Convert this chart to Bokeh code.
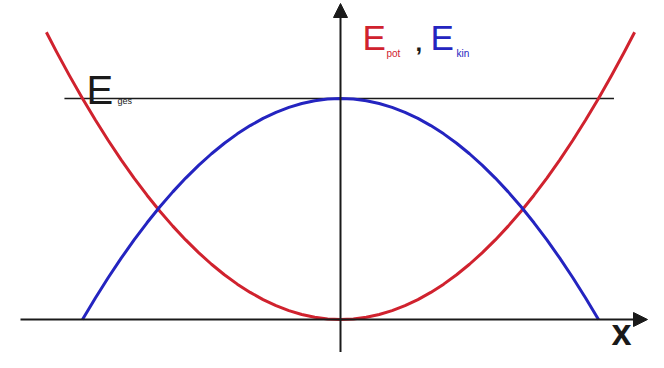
from bokeh.plotting import figure
from bokeh.models import Arrow, NormalHead, Label, Range1d
from bokeh.embed import file_html
from bokeh.resources import INLINE

# ---- data (x in units of amplitude, energy in units of E_ges)
x_pot = [-1.14, -1.10, -1.05, -1.00, -0.95, -0.90, -0.85, -0.80, -0.75, -0.70, -0.65,
         -0.60, -0.55, -0.50, -0.45, -0.40, -0.35, -0.30, -0.25, -0.20, -0.15, -0.10,
         -0.05, 0.00, 0.05, 0.10, 0.15, 0.20, 0.25, 0.30, 0.35, 0.40, 0.45, 0.50, 0.55,
         0.60, 0.65, 0.70, 0.75, 0.80, 0.85, 0.90, 0.95, 1.00, 1.05, 1.10, 1.14]
e_pot = [1.30, 1.21, 1.1025, 1.00, 0.9025, 0.81, 0.7225, 0.64, 0.5625, 0.49, 0.4225,
         0.36, 0.3025, 0.25, 0.2025, 0.16, 0.1225, 0.09, 0.0625, 0.04, 0.0225, 0.01,
         0.0025, 0.0, 0.0025, 0.01, 0.0225, 0.04, 0.0625, 0.09, 0.1225, 0.16, 0.2025, 0.25, 0.3025,
         0.36, 0.4225, 0.49, 0.5625, 0.64, 0.7225, 0.81, 0.9025, 1.00, 1.1025, 1.21, 1.30]
x_kin = [-1.00, -0.95, -0.90, -0.85, -0.80, -0.75, -0.70, -0.65, -0.60, -0.55, -0.50,
         -0.45, -0.40, -0.35, -0.30, -0.25, -0.20, -0.15, -0.10, -0.05, 0.00,
         0.05, 0.10, 0.15, 0.20, 0.25, 0.30, 0.35, 0.40, 0.45, 0.50,
         0.55, 0.60, 0.65, 0.70, 0.75, 0.80, 0.85, 0.90, 0.95, 1.00]
e_kin = [0.0, 0.0975, 0.19, 0.2775, 0.36, 0.4375, 0.51, 0.5775, 0.64, 0.6975, 0.75,
         0.7975, 0.84, 0.8775, 0.91, 0.9375, 0.96, 0.9775, 0.99, 0.9975, 1.0,
         0.9975, 0.99, 0.9775, 0.96, 0.9375, 0.91, 0.8775, 0.84, 0.7975, 0.75,
         0.6975, 0.64, 0.5775, 0.51, 0.4375, 0.36, 0.2775, 0.19, 0.0975, 0.0]
e_ges = 1.0
e_ges_span = [-1.07, 1.06]

# layout: screen x = 340 + 258*x, screen y = 319 - 221*E
def sx(px):
    return (px - 340) / 258.0

def sy(py):
    return (319 - py) / 221.0

x_lo, x_hi = sx(0), sx(648)
y_lo, y_hi = sy(352), sy(0)

RED = "#d0222e"
BLUE = "#2424c0"
INK = "#1a1a1a"
FONT = "Liberation Sans"

p = figure(width=648, height=352, output_backend="svg", toolbar_location=None,
           x_range=Range1d(x_lo, x_hi), y_range=Range1d(y_lo, y_hi),
           min_border=0, outline_line_color=None)
p.axis.visible = False
p.grid.visible = False
p.background_fill_color = "white"
p.border_fill_color = "white"

# axes (drawn through the middle)
p.add_layout(Arrow(end=NormalHead(size=14, fill_color=INK, line_color=INK),
                   x_start=sx(20), y_start=0.0, x_end=sx(647), y_end=0.0,
                   line_width=2, line_color=INK))
p.add_layout(Arrow(end=NormalHead(size=14, fill_color=INK, line_color=INK),
                   x_start=0.0, y_start=y_lo, x_end=0.0, y_end=sy(3),
                   line_width=2, line_color=INK))

# total energy line
p.line(e_ges_span, [e_ges, e_ges], line_width=1.5, line_color=INK)

# curves
p.line(x_pot, e_pot, line_width=3, line_color=RED, line_join="round")
p.line(x_kin, e_kin, line_width=3, line_color=BLUE, line_join="round")

def lab(px, py, t, size, color, style="normal", baseline="alphabetic"):
    p.add_layout(Label(x=sx(px), y=sy(py), text=t, text_font=FONT, text_font_size=f"{size}px",
                       text_color=color, text_baseline=baseline, text_align="left",
                       text_font_style=style))

lab(86, 89, "E", 40, INK)
lab(117, 100, "ges", 9, INK)
lab(362, 37, "E", 35, RED)
lab(386, 53, "pot", 10, RED)
lab(415, 42, ",", 24, INK, "bold")
lab(430, 37, "E", 35, BLUE)
lab(456, 53, "kin", 10, BLUE)
lab(611, 352, "x", 36, INK, "bold", "bottom")

open("out.html", "w").write(file_html(p, INLINE))
